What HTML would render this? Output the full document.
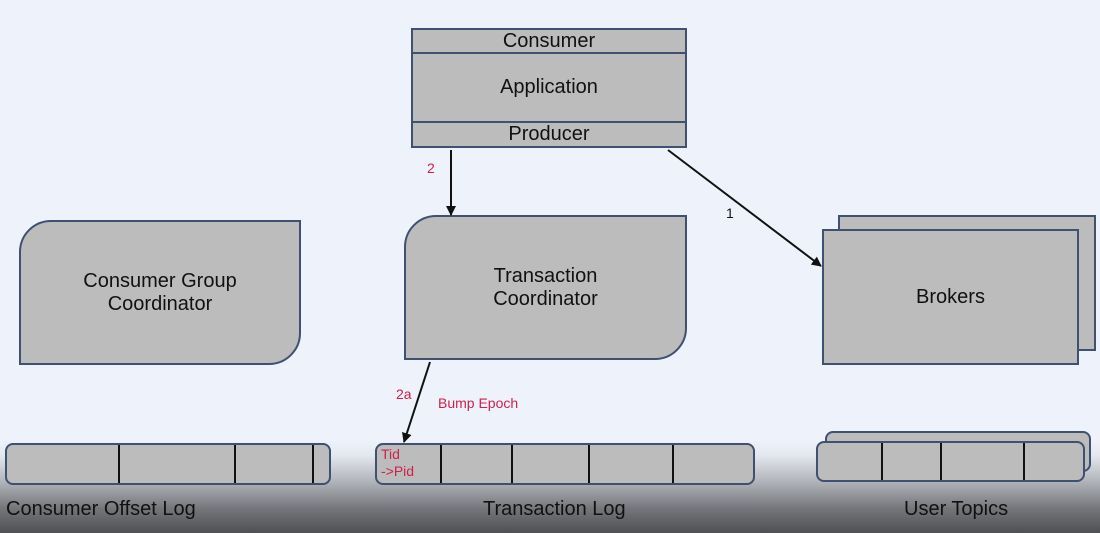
<!DOCTYPE html>
<html><head><style>
body{margin:0;width:1100px;height:533px;overflow:hidden;font-family:"Liberation Sans",sans-serif;
background:linear-gradient(to bottom,#eef3fb 0px,#eef3fb 440px,#e4e8ef 455px,#b4b7bd 480px,#75777b 508px,#4e5053 533px);position:relative}
.b{position:absolute;background:#bcbcbc;border:2px solid #3f5070;box-sizing:border-box;display:flex;align-items:center;justify-content:center;text-align:center;font-size:20px;color:#111;line-height:23px}
.t{position:absolute;font-size:20px;color:#111}
.r{position:absolute;font-size:14px;color:#d0204a}
.d{position:absolute;top:0;bottom:0;width:2px;background:#111}
</style></head><body>
<div class="b" style="left:411px;top:28px;width:276px;height:26px">Consumer</div>
<div class="b" style="left:411px;top:52px;width:276px;height:71px">Application</div>
<div class="b" style="left:411px;top:121px;width:276px;height:27px">Producer</div>

<div class="b" style="left:19px;top:220px;width:282px;height:145px;border-radius:32px 0 32px 0">Consumer Group<br>Coordinator</div>
<div class="b" style="left:404px;top:215px;width:283px;height:145px;border-radius:32px 0 32px 0">Transaction<br>Coordinator</div>

<div class="b" style="left:838px;top:215px;width:258px;height:136px"></div>
<div class="b" style="left:822px;top:229px;width:257px;height:136px">Brokers</div>

<div class="b" style="left:5px;top:443px;width:326px;height:42px;border-radius:8px">
<div class="d" style="left:111px"></div><div class="d" style="left:227px"></div><div class="d" style="left:305px"></div></div>
<div class="b" style="left:375px;top:443px;width:380px;height:42px;border-radius:8px">
<div class="d" style="left:63px"></div><div class="d" style="left:134px"></div><div class="d" style="left:211px"></div><div class="d" style="left:295px"></div>
<div style="position:absolute;left:4px;top:1px;font-size:14px;line-height:17px;color:#d0204a;text-align:left">Tid<br>-&gt;Pid</div></div>
<div class="b" style="left:825px;top:431px;width:266px;height:41px;border-radius:8px"></div>
<div class="b" style="left:816px;top:441px;width:269px;height:41px;border-radius:8px">
<div class="d" style="left:63px"></div><div class="d" style="left:122px"></div><div class="d" style="left:205px"></div></div>

<div class="t" style="left:6px;top:498px">Consumer Offset Log</div>
<div class="t" style="left:483px;top:498px">Transaction Log</div>
<div class="t" style="left:904px;top:498px">User Topics</div>

<div class="r" style="left:427px;top:160px">2</div>
<div class="r" style="left:396px;top:386px">2a</div>
<div class="r" style="left:438px;top:395px">Bump Epoch</div>
<div class="r" style="left:726px;top:205px;color:#111">1</div>

<svg width="1100" height="533" style="position:absolute;left:0;top:0">
<defs><marker id="a" markerWidth="10" markerHeight="10" refX="9" refY="5" orient="auto" markerUnits="userSpaceOnUse"><path d="M0,0 L10,5 L0,10 z" fill="#111"/></marker></defs>
<g stroke="#111" stroke-width="2" fill="none" marker-end="url(#a)">
<line x1="451" y1="150" x2="451" y2="215"/>
<line x1="668" y1="150" x2="821" y2="266"/>
<line x1="430" y1="362" x2="404" y2="442"/>
</g></svg>
</body></html>
